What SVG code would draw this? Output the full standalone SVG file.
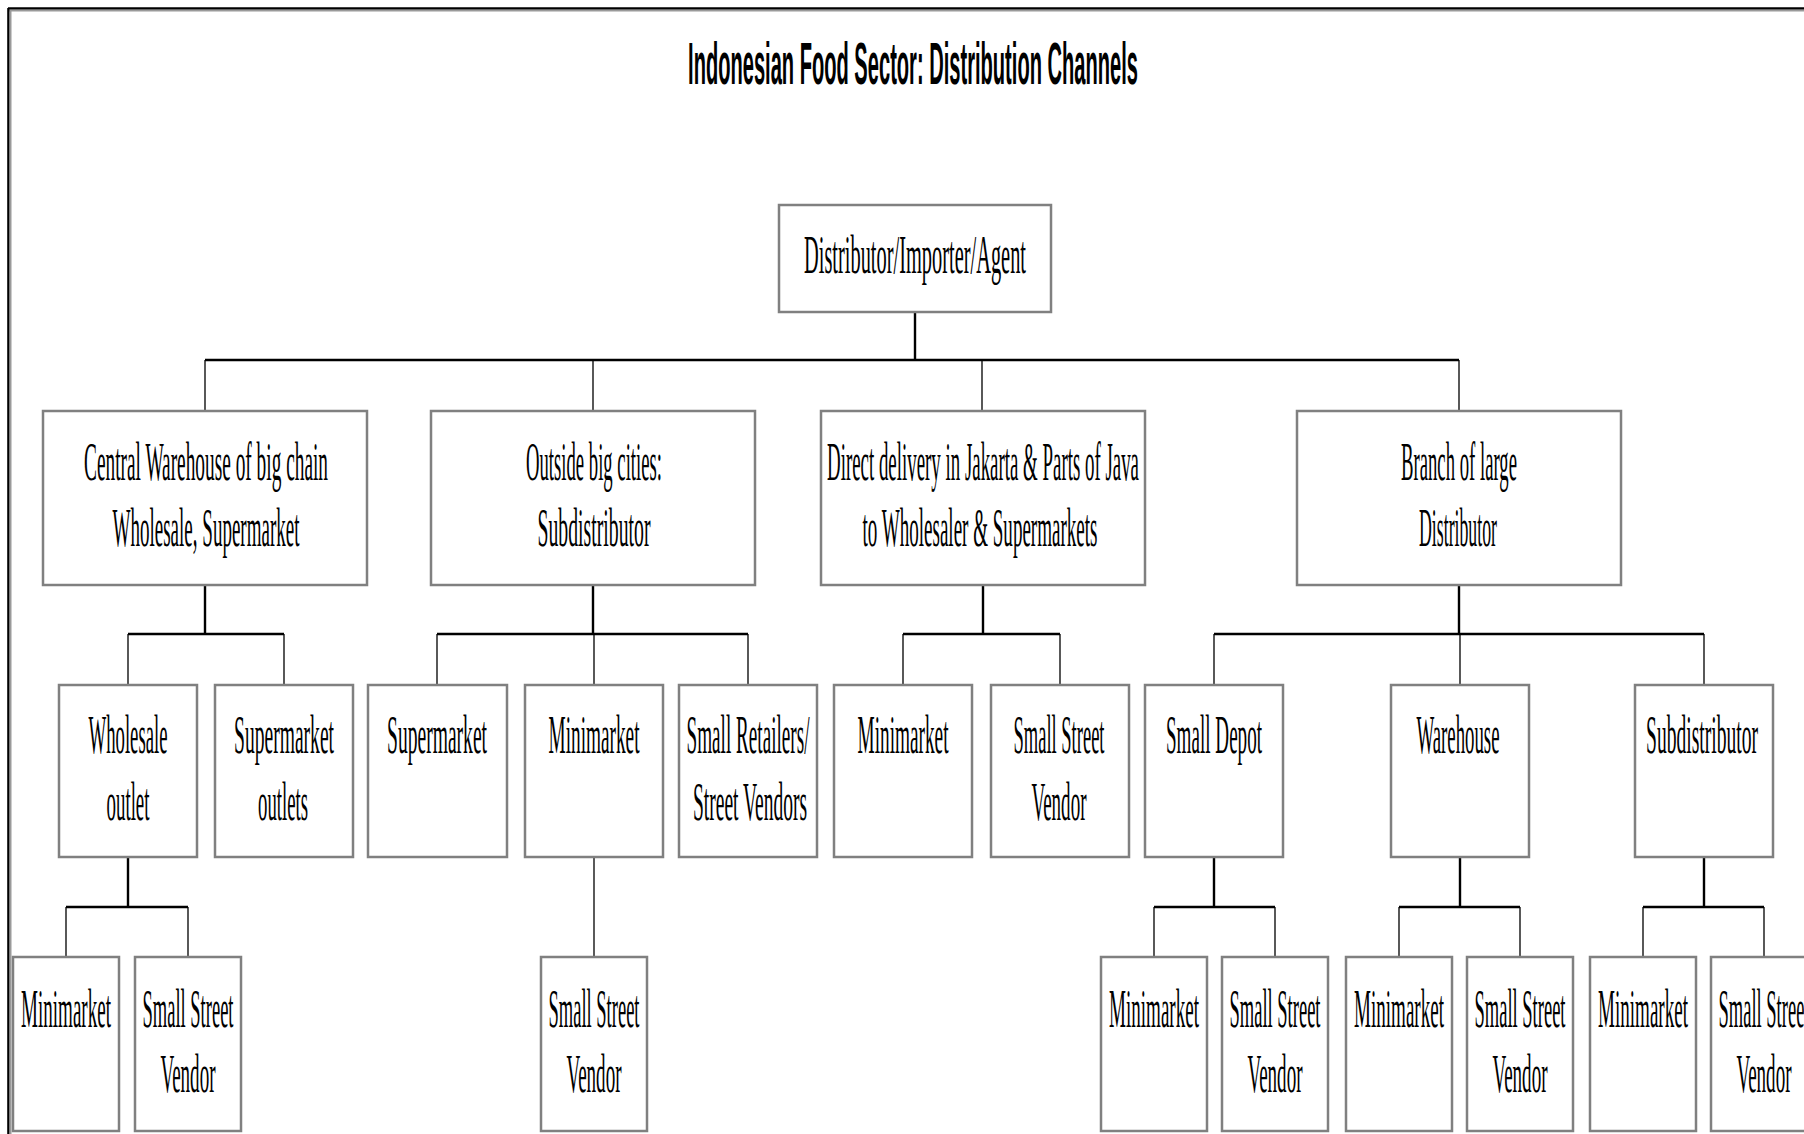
<svg xmlns="http://www.w3.org/2000/svg" width="1804" height="1134" viewBox="0 0 1804 1134">
<style>
.box{fill:#fff;stroke:#808080;stroke-width:2.5}
.t{font-family:"Liberation Serif","Times New Roman",serif;font-size:55px;fill:#000;text-anchor:middle}
.title{font-family:"Liberation Sans",Arial,sans-serif;font-weight:bold;font-size:60px;fill:#000;text-anchor:middle}
.thick{stroke:#000;stroke-width:2.4;fill:none}
.thin{stroke:#000;stroke-width:1.3;fill:none}
</style>
<rect x="0" y="0" width="1804" height="1134" fill="#fff"/>
<g id="frame">
<line x1="9" y1="10.5" x2="1804" y2="10.5" stroke="#9a9a9a" stroke-width="2"/>
<line x1="10.5" y1="10" x2="10.5" y2="1134" stroke="#9a9a9a" stroke-width="2"/>
<line x1="8" y1="8.3" x2="1804" y2="8.3" stroke="#000" stroke-width="2.2"/>
<line x1="8.3" y1="8" x2="8.3" y2="1134" stroke="#000" stroke-width="2.2"/>
</g>
<text class="title" transform="translate(913 84) scale(0.32 1)" x="0" y="0" textLength="1406" lengthAdjust="spacingAndGlyphs">Indonesian Food Sector: Distribution Channels</text>

<g id="connectors">
<path class="thick" d="M915 312V360M205 360H1459"/>
<path class="thin" d="M205 360V411M593 360V411M982 360V411M1459 360V411"/>
<path class="thick" d="M205 585V634M128 634H284"/>
<path class="thin" d="M128 634V685M284 634V685"/>
<path class="thick" d="M593 585V634M437 634H748"/>
<path class="thin" d="M437 634V685M594 634V685M748 634V685"/>
<path class="thick" d="M983 585V634M903 634H1060"/>
<path class="thin" d="M903 634V685M1060 634V685"/>
<path class="thick" d="M1459 585V634M1214 634H1704"/>
<path class="thin" d="M1214 634V685M1460 634V685M1704 634V685"/>
<path class="thick" d="M128 857V907M66 907H188"/>
<path class="thin" d="M66 907V957M188 907V957"/>
<path class="thin" d="M594 857V957"/>
<path class="thick" d="M1214 857V907M1154 907H1275"/>
<path class="thin" d="M1154 907V957M1275 907V957"/>
<path class="thick" d="M1460 857V907M1399 907H1520"/>
<path class="thin" d="M1399 907V957M1520 907V957"/>
<path class="thick" d="M1704 857V907M1643 907H1764"/>
<path class="thin" d="M1643 907V957M1764 907V957"/>
</g>

<g id="root">
<rect class="box" x="779" y="205" width="272" height="107"/>
<text class="t" transform="translate(915 273) scale(0.36 1)" font-size="58" textLength="616.7" lengthAdjust="spacingAndGlyphs">Distributor/Importer/Agent</text>
</g>

<g id="central-warehouse">
<rect class="box" x="43" y="411" width="324" height="174"/>
<text class="t" transform="translate(206 480) scale(0.36 1)" textLength="677.8" lengthAdjust="spacingAndGlyphs">Central Warehouse of big chain</text>
<text class="t" transform="translate(206 546) scale(0.36 1)" textLength="519.4" lengthAdjust="spacingAndGlyphs">Wholesale, Supermarket</text>
</g>
<g id="outside-big-cities">
<rect class="box" x="431" y="411" width="324" height="174"/>
<text class="t" transform="translate(594 480) scale(0.36 1)" textLength="377.8" lengthAdjust="spacingAndGlyphs">Outside big cities:</text>
<text class="t" transform="translate(594 546) scale(0.36 1)" textLength="313.9" lengthAdjust="spacingAndGlyphs">Subdistributor</text>
</g>
<g id="direct-delivery">
<rect class="box" x="821" y="411" width="324" height="174"/>
<text class="t" transform="translate(983 480) scale(0.36 1)" textLength="866.7" lengthAdjust="spacingAndGlyphs">Direct delivery in Jakarta &amp; Parts of Java</text>
<text class="t" transform="translate(980 546) scale(0.36 1)" textLength="652.8" lengthAdjust="spacingAndGlyphs">to Wholesaler &amp; Supermarkets</text>
</g>
<g id="branch">
<rect class="box" x="1297" y="411" width="324" height="174"/>
<text class="t" transform="translate(1459 480) scale(0.36 1)" textLength="322.2" lengthAdjust="spacingAndGlyphs">Branch of large</text>
<text class="t" transform="translate(1458 546) scale(0.36 1)" textLength="216.7" lengthAdjust="spacingAndGlyphs">Distributor</text>
</g>

<g id="wholesale-outlet">
<rect class="box" x="59" y="685" width="138" height="172"/>
<text class="t" transform="translate(128 753) scale(0.36 1)" textLength="219.4" lengthAdjust="spacingAndGlyphs">Wholesale</text>
<text class="t" transform="translate(128 820) scale(0.36 1)" textLength="119.4" lengthAdjust="spacingAndGlyphs">outlet</text>
</g>
<g id="supermarket-outlets">
<rect class="box" x="215" y="685" width="138" height="172"/>
<text class="t" transform="translate(284 753) scale(0.36 1)" textLength="277.8" lengthAdjust="spacingAndGlyphs">Supermarket</text>
<text class="t" transform="translate(283 820) scale(0.36 1)" textLength="138.9" lengthAdjust="spacingAndGlyphs">outlets</text>
</g>
<g id="supermarket-b">
<rect class="box" x="368" y="685" width="139" height="172"/>
<text class="t" transform="translate(437 753) scale(0.36 1)" textLength="277.8" lengthAdjust="spacingAndGlyphs">Supermarket</text>
</g>
<g id="minimarket-b">
<rect class="box" x="525" y="685" width="138" height="172"/>
<text class="t" transform="translate(594 753) scale(0.36 1)" textLength="252.8" lengthAdjust="spacingAndGlyphs">Minimarket</text>
</g>
<g id="small-retailers">
<rect class="box" x="679" y="685" width="138" height="172"/>
<text class="t" transform="translate(748 753) scale(0.36 1)" textLength="341.7" lengthAdjust="spacingAndGlyphs">Small Retailers/</text>
<text class="t" transform="translate(750 820) scale(0.36 1)" textLength="316.7" lengthAdjust="spacingAndGlyphs">Street Vendors</text>
</g>
<g id="minimarket-c">
<rect class="box" x="834" y="685" width="138" height="172"/>
<text class="t" transform="translate(903 753) scale(0.36 1)" textLength="252.8" lengthAdjust="spacingAndGlyphs">Minimarket</text>
</g>
<g id="ssv-c">
<rect class="box" x="991" y="685" width="138" height="172"/>
<text class="t" transform="translate(1059 753) scale(0.36 1)" textLength="252.8" lengthAdjust="spacingAndGlyphs">Small Street</text>
<text class="t" transform="translate(1059 820) scale(0.36 1)" textLength="152.8" lengthAdjust="spacingAndGlyphs">Vendor</text>
</g>
<g id="small-depot">
<rect class="box" x="1145" y="685" width="138" height="172"/>
<text class="t" transform="translate(1214 753) scale(0.36 1)" textLength="266.7" lengthAdjust="spacingAndGlyphs">Small Depot</text>
</g>
<g id="warehouse">
<rect class="box" x="1391" y="685" width="138" height="172"/>
<text class="t" transform="translate(1458 753) scale(0.36 1)" textLength="230.6" lengthAdjust="spacingAndGlyphs">Warehouse</text>
</g>
<g id="subdistributor-d">
<rect class="box" x="1635" y="685" width="138" height="172"/>
<text class="t" transform="translate(1702 753) scale(0.36 1)" textLength="311.1" lengthAdjust="spacingAndGlyphs">Subdistributor</text>
</g>

<g id="minimarket-a3">
<rect class="box" x="13" y="957" width="106" height="174"/>
<text class="t" transform="translate(66 1027) scale(0.36 1)" textLength="250" lengthAdjust="spacingAndGlyphs">Minimarket</text>
</g>
<g id="ssv-a3">
<rect class="box" x="135" y="957" width="106" height="174"/>
<text class="t" transform="translate(188 1027) scale(0.36 1)" textLength="252.8" lengthAdjust="spacingAndGlyphs">Small Street</text>
<text class="t" transform="translate(188 1092) scale(0.36 1)" textLength="152.8" lengthAdjust="spacingAndGlyphs">Vendor</text>
</g>
<g id="ssv-b3">
<rect class="box" x="541" y="957" width="106" height="174"/>
<text class="t" transform="translate(594 1027) scale(0.36 1)" textLength="252.8" lengthAdjust="spacingAndGlyphs">Small Street</text>
<text class="t" transform="translate(594 1092) scale(0.36 1)" textLength="152.8" lengthAdjust="spacingAndGlyphs">Vendor</text>
</g>
<g id="minimarket-d1">
<rect class="box" x="1101" y="957" width="106" height="174"/>
<text class="t" transform="translate(1154 1027) scale(0.36 1)" textLength="250" lengthAdjust="spacingAndGlyphs">Minimarket</text>
</g>
<g id="ssv-d1">
<rect class="box" x="1222" y="957" width="106" height="174"/>
<text class="t" transform="translate(1275 1027) scale(0.36 1)" textLength="252.8" lengthAdjust="spacingAndGlyphs">Small Street</text>
<text class="t" transform="translate(1275 1092) scale(0.36 1)" textLength="152.8" lengthAdjust="spacingAndGlyphs">Vendor</text>
</g>
<g id="minimarket-d2">
<rect class="box" x="1346" y="957" width="106" height="174"/>
<text class="t" transform="translate(1399 1027) scale(0.36 1)" textLength="250" lengthAdjust="spacingAndGlyphs">Minimarket</text>
</g>
<g id="ssv-d2">
<rect class="box" x="1467" y="957" width="106" height="174"/>
<text class="t" transform="translate(1520 1027) scale(0.36 1)" textLength="252.8" lengthAdjust="spacingAndGlyphs">Small Street</text>
<text class="t" transform="translate(1520 1092) scale(0.36 1)" textLength="152.8" lengthAdjust="spacingAndGlyphs">Vendor</text>
</g>
<g id="minimarket-d3">
<rect class="box" x="1590" y="957" width="106" height="174"/>
<text class="t" transform="translate(1643 1027) scale(0.36 1)" textLength="250" lengthAdjust="spacingAndGlyphs">Minimarket</text>
</g>
<g id="ssv-d3">
<rect class="box" x="1711" y="957" width="106" height="174"/>
<text class="t" transform="translate(1764 1027) scale(0.36 1)" textLength="252.8" lengthAdjust="spacingAndGlyphs">Small Street</text>
<text class="t" transform="translate(1764 1092) scale(0.36 1)" textLength="152.8" lengthAdjust="spacingAndGlyphs">Vendor</text>
</g>
</svg>
